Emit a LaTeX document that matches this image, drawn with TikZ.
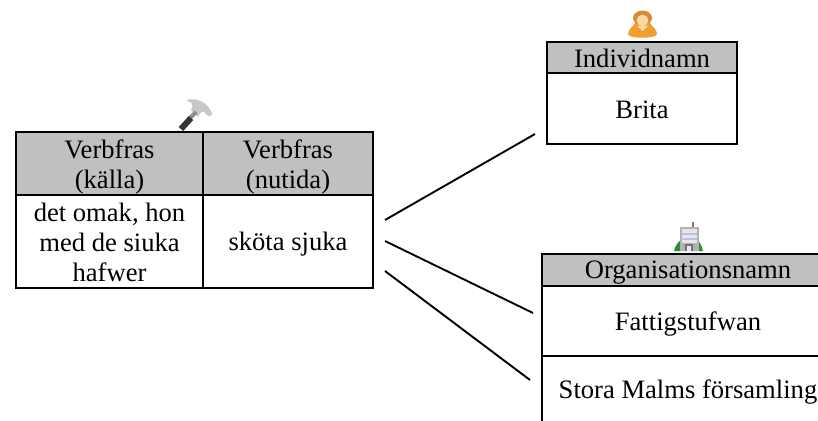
\documentclass[tikz,border=0pt]{standalone}
\usepackage{fontspec}
\setmainfont{Liberation Serif}
\newcommand{\cellline}[2]{\raisebox{-#1pt}[0pt][0pt]{#2}}
\begin{document}
\begin{tikzpicture}[x=1pt,y=-1pt,
  cellbox/.style={draw=black,line width=2.4pt,inner sep=0pt,outer sep=0pt,anchor=north west,align=center,
    font=\fontsize{26.6}{30}\selectfont,text=black},
  headbox/.style={cellbox,fill=headgray},
  link/.style={draw=black,line width=1.9pt}]
\definecolor{headgray}{HTML}{C0C0C0}
\definecolor{persbody}{HTML}{F0A030}
\definecolor{pershair}{HTML}{D98A35}
\definecolor{persface}{HTML}{F8D8A8}
\useasboundingbox (0,0) rectangle (818,420);
\clip (0,0) rectangle (818,420);
\fill[white] (0,0) rectangle (818,420);
% left table
\node[headbox,minimum width=187pt,minimum height=63pt] (h1) at (16,132) {\cellline{9.5}{Verbfras}\\\cellline{9.5}{(källa)}};
\node[headbox,minimum width=170pt,minimum height=63pt] (h2) at (203,132) {\cellline{9.5}{Verbfras}\\\cellline{9.5}{(nutida)}};
\node[cellbox,minimum width=187pt,minimum height=93pt] (c1) at (16,195) {\cellline{9.5}{det omak, hon}\\\cellline{9.5}{med de siuka}\\\cellline{9.5}{hafwer}};
\node[cellbox,minimum width=170pt,minimum height=93pt] (c2) at (203,195) {\cellline{9}{sköta sjuka}};
% individual
\node[headbox,minimum width=190pt,minimum height=31pt] (ih) at (547,42) {\cellline{10}{Individnamn}};
\node[cellbox,minimum width=190pt,minimum height=71pt] (ic) at (547,73) {\cellline{9.5}{Brita}};
% organisation
\node[headbox,minimum width=292pt,minimum height=32pt] (oh) at (542,254) {\cellline{8}{Organisationsnamn}};
\node[cellbox,minimum width=292pt,minimum height=70pt] (o1) at (542,286) {\cellline{9}{Fattigstufwan}};
\node[cellbox,minimum width=292pt,minimum height=70pt] (o2) at (542,356) {\cellline{7}{Stora Malms församling}};
% connectors
\coordinate (a1) at (385,220); \coordinate (b1) at (535,134);
\coordinate (a2) at (385,241); \coordinate (b2) at (533,313);
\coordinate (a3) at (385,271); \coordinate (b3) at (530,380);
\draw[link] (a1) -- (b1);
\draw[link] (a2) -- (b2);
\draw[link] (a3) -- (b3);
% hammer icon
\fill[black!22] (187,100) .. controls (197,97) and (208,103) .. (212,113)
  .. controls (212,117) and (208,117) .. (205,113)
  .. controls (203,110) and (200,112) .. (198,117) -- (191,110)
  .. controls (194,105) and (192,102) .. (187,101) -- cycle;
\draw[line width=4pt,color=black!45] (190,118) -- (196,112);
\draw[line width=6pt,color=black!80] (181,129) -- (191,118);
% person icon
\fill[persbody] (628,34) .. controls (628,29) and (633,27) .. (635,23)
  -- (650,23) .. controls (652,27) and (657,29) .. (657,34)
  .. controls (657,39) and (628,39) .. (628,34) -- cycle;
\fill[pershair] (642.5,18) ellipse (9.5pt and 7.5pt);
\fill[persface] (642.5,20.5) ellipse (6pt and 5.5pt);
\fill[persface] (637,26) -- (648,26) -- (642.5,31) -- cycle;
% building icon
\fill[green!50!black!85] (674,251) .. controls (675,246) and (678,242) .. (681,240) -- (697,240)
  .. controls (700,242) and (702,246) .. (703,251) -- cycle;
\fill[black!30] (680,227) rectangle (699,251);
\fill[blue!35!black!10] (682,229) rectangle (697,243);
\fill[blue!45!black!25] (682,233) rectangle (697,235);
\fill[blue!45!black!25] (682,238) rectangle (697,240);
\fill[black!55] (685,244) rectangle (693,251);
\fill[black!8] (687,246) rectangle (691,251);
\draw[red!40!black!60,line width=1.2pt] (693,222) -- (693,227);
\end{tikzpicture}
\end{document}
